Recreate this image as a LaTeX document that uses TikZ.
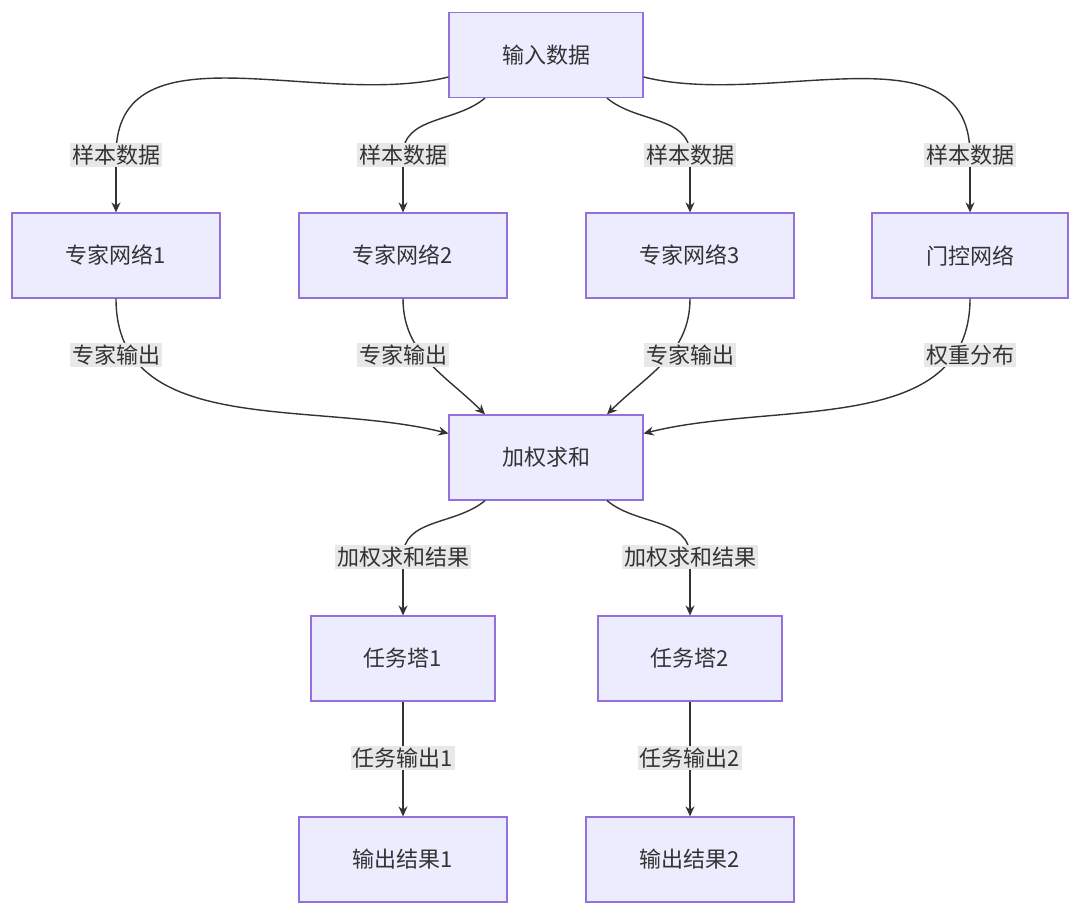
\documentclass[tikz,border=0pt]{standalone}
\usepackage{fontspec}
\setmainfont{Noto Sans CJK SC}
\usetikzlibrary{arrows.meta, positioning}
\definecolor{boxfill}{HTML}{ECECFF}
\definecolor{boxline}{HTML}{9370DB}
\definecolor{edgeline}{HTML}{333333}
\definecolor{lblfill}{HTML}{E8E8E8}

\begin{document}
\begin{tikzpicture}[x=0.5pt, y=-0.5pt,
    font=\fontsize{11}{13}\selectfont, text=edgeline,
    box/.style={draw=boxline, fill=boxfill, line width=0.6pt, inner sep=0pt,
                minimum height=42.5pt},
    lbl/.style={fill=lblfill, inner sep=1pt},
    arr/.style={draw=edgeline, line width=0.7pt, -{Stealth[length=5pt,width=4.5pt]}}]
    \useasboundingbox (0,0) rectangle (1080,915);
    % nodes
    \node[box, minimum width=97pt] (in) at (546,55) {输入数据};
    \node[box, minimum width=104pt] (e1) at (116,255.5) {专家网络1};
    \node[box, minimum width=104pt] (e2) at (403,255.5) {专家网络2};
    \node[box, minimum width=104pt] (e3) at (690,255.5) {专家网络3};
    \node[box, minimum width=98pt] (gate) at (970,255.5) {门控网络};
    \node[box, minimum width=97pt] (agg) at (546,457.5) {加权求和};
    \node[box, minimum width=92pt] (t1) at (403,658.5) {任务塔1};
    \node[box, minimum width=92pt] (t2) at (690,658.5) {任务塔2};
    \node[box, minimum width=104pt] (o1) at (403,859.5) {输出结果1};
    \node[box, minimum width=104pt] (o2) at (690,859.5) {输出结果2};
    % label positions
    \coordinate (l1) at (116,155);
    \coordinate (l2) at (403,155);
    \coordinate (l3) at (690,155);
    \coordinate (l4) at (970,155);
    \coordinate (l5) at (116,355);
    \coordinate (l6) at (403,355);
    \coordinate (l7) at (690,355);
    \coordinate (l8) at (970,355);
    \coordinate (l9) at (403,557);
    \coordinate (l10) at (690,557);
    \coordinate (l11) at (403,758);
    \coordinate (l12) at (690,758);
    % edges
    \draw[edgeline, line width=0.7pt] ([yshift=-11pt]in.west) to[out=194,in=90] (l1);
    \draw[arr] (l1) -- (e1.north);
    \draw[edgeline, line width=0.7pt] ([xshift=-30.5pt]in.south) to[out=-140,in=90] (l2);
    \draw[arr] (l2) -- (e2.north);
    \draw[edgeline, line width=0.7pt] ([xshift=30.5pt]in.south) to[out=-40,in=90] (l3);
    \draw[arr] (l3) -- (e3.north);
    \draw[edgeline, line width=0.7pt] ([yshift=-11pt]in.east) to[out=-14,in=90] (l4);
    \draw[arr] (l4) -- (gate.north);
    \draw[arr] (e1.south) to[out=-90,in=166] ([yshift=12pt]agg.west);
    \draw[arr] (e2.south) to[out=-90,in=135] ([xshift=-30.5pt]agg.north);
    \draw[arr] (e3.south) to[out=-90,in=45] ([xshift=30.5pt]agg.north);
    \draw[arr] (gate.south) to[out=-90,in=14] ([yshift=12pt]agg.east);
    \draw[edgeline, line width=0.7pt] ([xshift=-30.5pt]agg.south) to[out=-140,in=90] (l9);
    \draw[arr] (l9) -- (t1.north);
    \draw[edgeline, line width=0.7pt] ([xshift=30.5pt]agg.south) to[out=-40,in=90] (l10);
    \draw[arr] (l10) -- (t2.north);
    \draw[arr] (t1) -- (o1);
    \draw[arr] (t2) -- (o2);
    % labels
    \foreach \p/\t in {l1/样本数据, l2/样本数据, l3/样本数据, l4/样本数据,
                       l5/专家输出, l6/专家输出, l7/专家输出, l8/权重分布,
                       l9/加权求和结果, l10/加权求和结果, l11/任务输出1, l12/任务输出2}
        \node[lbl] at (\p) {\t};
\end{tikzpicture}
\end{document}
